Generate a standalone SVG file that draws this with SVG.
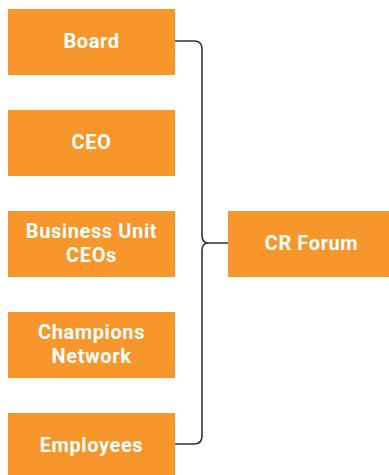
<svg xmlns="http://www.w3.org/2000/svg" width="389" height="475" viewBox="0 0 389 475">
<style>
.box{fill:#F7962A}
.t{fill:#fff;font-family:Roboto,"Liberation Sans",sans-serif;font-weight:bold;font-size:20px;letter-spacing:0.6px;text-anchor:middle}
.c{fill:none;stroke:#333;stroke-width:1.6}
</style>
<g id="connectors">
<path class="c" d="M175,41 H194 Q202,41 202,49 V235 Q202,243 208,243 M175,444 H194 Q202,444 202,436 V251 Q202,243 208,243 H228"/>
</g>
<g id="board"><rect class="box" x="8" y="9" width="167" height="66"/><text class="t" x="91.5" y="48">Board</text></g>
<g id="ceo"><rect class="box" x="8" y="110" width="167" height="66"/><text class="t" x="91.5" y="149">CEO</text></g>
<g id="bu"><rect class="box" x="8" y="211" width="167" height="66"/><text class="t" x="91.5" y="238">Business Unit</text><text class="t" x="91.5" y="262">CEOs</text></g>
<g id="champions"><rect class="box" x="8" y="312" width="167" height="66"/><text class="t" x="91.5" y="339">Champions</text><text class="t" x="91.5" y="363">Network</text></g>
<g id="employees"><rect class="box" x="8" y="413" width="167" height="66"/><text class="t" x="91.5" y="452">Employees</text></g>
<g id="crforum"><rect class="box" x="228" y="211" width="167" height="66"/><text class="t" x="311.5" y="250">CR Forum</text></g>
</svg>
